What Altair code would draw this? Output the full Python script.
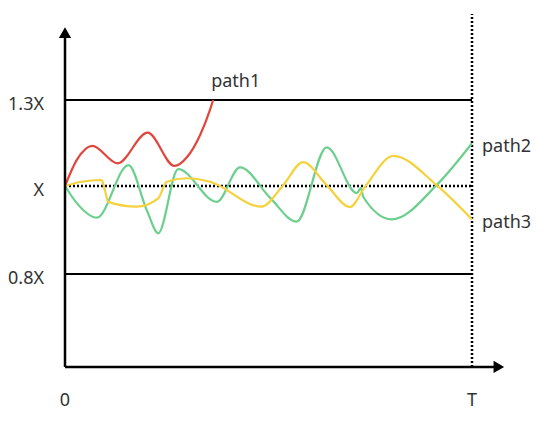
import altair as alt
import pandas as pd

# ---- data (time in units of T = 100, level in units of X) ----
path1_t = [0, 2.9, 6.7, 12.9, 20.3, 26.9, 30.0, 33.2, 35.6, 36.4]
path1_v = [1.0, 1.091, 1.140, 1.079, 1.186, 1.070, 1.101, 1.178, 1.265, 1.300]

path2_t = [0, 2.9, 7.8, 15.6, 20.1, 22.9, 27.8, 37.3, 43.0, 50.4, 56.9, 64.3,
           71.7, 72.7, 73.3, 80.3, 91.3, 100]
path2_v = [1.0, 0.961, 0.928, 1.073, 0.945, 0.8925, 1.059, 0.964, 1.065, 0.973,
           0.919, 1.135, 0.984, 0.995, 0.975, 0.924, 1.003, 1.149]

path3_t = [0, 3.7, 9.0, 9.8, 10.6, 17.6, 22.9, 25.0, 29.9, 35.6, 48.3, 53.6,
           58.5, 64.3, 70.0, 73.7, 80.7, 91.3, 100]
path3_v = [1.0, 1.014, 1.021, 0.991, 0.964, 0.953, 0.972, 1.015, 1.027, 1.015,
           0.953, 1.003, 1.083, 1.003, 0.952, 0.998, 1.105, 1.003, 0.924]

series_names = ["path1", "path2", "path3"]
series_colors = ["#e0463c", "#6ccf8e", "#f5d23c"]

solid_levels = [1.3, 0.8]
dotted_level = 1.0
tick_levels = [1.3, 1.0, 0.8]
tick_labels = ["1.3X", "X", "0.8X"]
t_ticks = [0, 100]
t_labels = ["0", "T"]

T_END = 100
BASE = 0.5      # level where the time axis sits
V_TOP = 1.6     # top of the dotted T line
AXIS_TOP = 1.523
ARROW_Y = 1.535
X_AXIS_END = 105.7
ARROW_X = 106.6

FONT = "Noto Sans"
TXT = "#333333"

# ---- tables ----
rows = []
for name, ts, vs in zip(series_names, [path1_t, path2_t, path3_t],
                        [path1_v, path2_v, path3_v]):
    for i, (t, v) in enumerate(zip(ts, vs)):
        rows.append({"series": name, "t": t, "v": v, "i": i})
curves = pd.DataFrame(rows)
ends = curves.sort_values("i").groupby("series").tail(1).reset_index(drop=True)

xs = alt.Scale(domain=[-14.005, 117.199], range=[0, 534], nice=False, zero=False)
ys = alt.Scale(domain=[0.345, 0.8, 1.0, 1.3, 1.621], range=[407, 266, 178, 92, 0],
               nice=False, zero=False)
X = lambda f: alt.X(f, type="quantitative", scale=xs, axis=None)
Y = lambda f: alt.Y(f, type="quantitative", scale=ys, axis=None)
color = alt.Color("series:N", scale=alt.Scale(domain=series_names, range=series_colors),
                  legend=None)

lev = pd.DataFrame({"v": solid_levels, "t0": 0, "t1": T_END})
solid = alt.Chart(lev).mark_rule(color="black", strokeWidth=2).encode(
    x=X("t0"), x2="t1", y=Y("v"))

dot = alt.Chart(pd.DataFrame({"v": [dotted_level], "t0": [0], "t1": [T_END]})).mark_rule(
    color="black", strokeWidth=2.5, strokeDash=[2, 2]).encode(x=X("t0"), x2="t1", y=Y("v"))

vline = alt.Chart(pd.DataFrame({"t": [T_END], "v0": [BASE], "v1": [V_TOP]})).mark_rule(
    color="black", strokeWidth=2.5, strokeDash=[2, 2]).encode(x=X("t"), y=Y("v0"), y2="v1")

yaxis = alt.Chart(pd.DataFrame({"t": [0], "v0": [BASE], "v1": [AXIS_TOP]})).mark_rule(
    color="black", strokeWidth=2.5).encode(x=X("t"), y=Y("v0"), y2="v1")
xaxis = alt.Chart(pd.DataFrame({"v": [BASE], "t0": [0], "t1": [X_AXIS_END]})).mark_rule(
    color="black", strokeWidth=2.5).encode(x=X("t0"), x2="t1", y=Y("v"))

arr_up = alt.Chart(pd.DataFrame({"t": [0], "v": [ARROW_Y]})).mark_point(
    shape="triangle-up", size=150, filled=True, color="black", opacity=1).encode(
    x=X("t"), y=Y("v"))
arr_rt = alt.Chart(pd.DataFrame({"t": [ARROW_X], "v": [BASE]})).mark_point(
    shape="triangle-right", size=150, filled=True, color="black", opacity=1).encode(
    x=X("t"), y=Y("v"))

lines = alt.Chart(curves).mark_line(interpolate="monotone", strokeWidth=2.2).encode(
    x=X("t"), y=Y("v"), color=color, detail="series:N", order="i:Q")

ylab = alt.Chart(pd.DataFrame({"v": tick_levels, "lab": tick_labels, "t": 0})).mark_text(
    align="right", baseline="alphabetic", dx=-21, dy=9.5, font=FONT, fontSize=18,
    color=TXT).encode(x=X("t"), y=Y("v"), text="lab:N")
xlab = alt.Chart(pd.DataFrame({"t": t_ticks, "lab": t_labels, "v": BASE})).mark_text(
    align="center", baseline="alphabetic", dy=39, font=FONT, fontSize=18,
    color=TXT).encode(x=X("t"), y=Y("v"), text="lab:N")

end1 = ends[ends.series == "path1"]
end23 = ends[ends.series != "path1"].copy()
lab1 = alt.Chart(end1).mark_text(align="left", baseline="alphabetic", dx=-2, dy=-13,
                                 font=FONT, fontSize=18, color=TXT).encode(
    x=X("t"), y=Y("v"), text="series:N")
lab23 = alt.Chart(end23).mark_text(align="left", baseline="alphabetic", dx=10, dy=8.5,
                                   font=FONT, fontSize=18, color=TXT).encode(
    x=X("t"), y=Y("v"), text="series:N")

chart = alt.layer(solid, dot, vline, lines, yaxis, xaxis, arr_up, arr_rt,
                  ylab, xlab, lab1, lab23).properties(
    width=534, height=407, autosize=alt.AutoSizeParams(type="none"), padding=0,
    background="white").configure_view(stroke=None)

chart.save("out.html", embed_options={"renderer": "svg", "actions": False})
